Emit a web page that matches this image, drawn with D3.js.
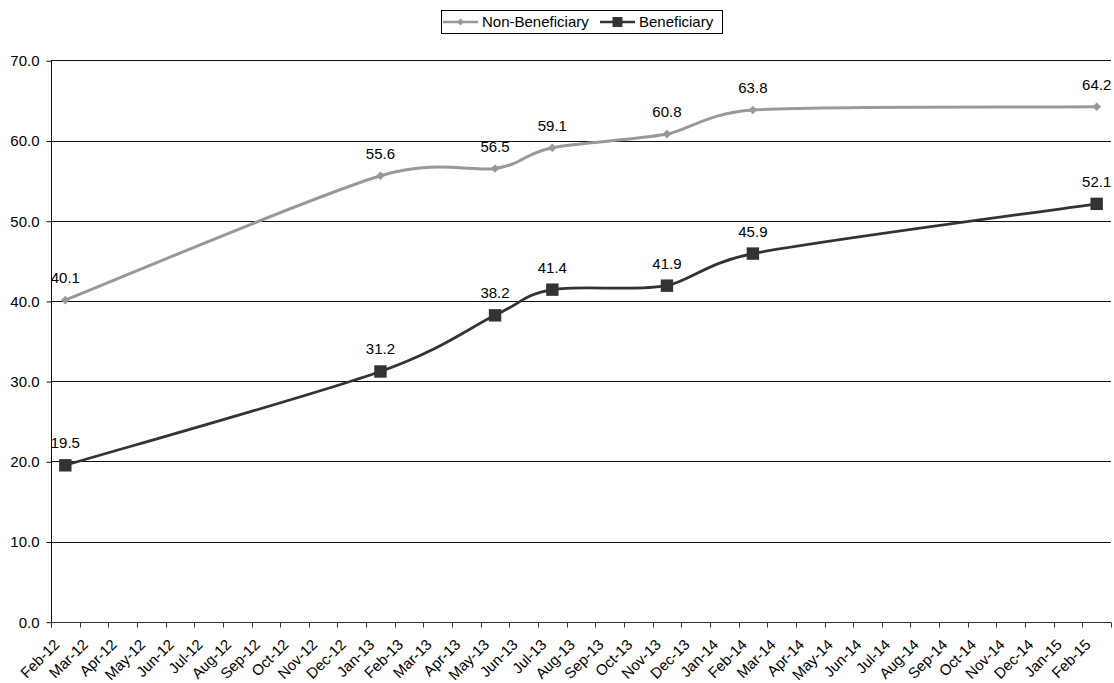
<!DOCTYPE html>
<html>
<head>
<meta charset="utf-8">
<script src="https://cdn.jsdelivr.net/npm/d3@7"></script>
<style>
  body { margin: 0; background: #fff; }
  svg { display: block; font-family: "Liberation Sans", Arial, sans-serif; }
</style>
</head>
<body>
<svg id="chart" width="1114" height="683"></svg>
<script>
// Monthly categories on the x axis
const months = ["Feb-12","Mar-12","Apr-12","May-12","Jun-12","Jul-12","Aug-12","Sep-12","Oct-12","Nov-12","Dec-12","Jan-13",
  "Feb-13","Mar-13","Apr-13","May-13","Jun-13","Jul-13","Aug-13","Sep-13","Oct-13","Nov-13","Dec-13","Jan-14",
  "Feb-14","Mar-14","Apr-14","May-14","Jun-14","Jul-14","Aug-14","Sep-14","Oct-14","Nov-14","Dec-14","Jan-15","Feb-15"];

// Survey rounds (months where values exist)
const surveyMonths = ["Feb-12","Jan-13","May-13","Jul-13","Nov-13","Feb-14","Feb-15"];
const nonBeneficiary = [40.1, 55.6, 56.5, 59.1, 60.8, 63.8, 64.2];
const beneficiary    = [19.5, 31.2, 38.2, 41.4, 41.9, 45.9, 52.1];

const yTicks = [0, 10, 20, 30, 40, 50, 60, 70];

const svg = d3.select("#chart");
const plotLeft = 51, plotRight = 1111, plotTop = 60.3, plotBottom = 621.7;
const FONT = 15;

const x = d3.scaleBand().domain(months).range([plotLeft, plotRight]);
const y = d3.scaleLinear().domain([0, 70]).range([plotBottom, plotTop]);
const cx = m => x(m) + x.bandwidth() / 2;

// Horizontal gridlines
svg.append("g").selectAll("line").data(yTicks.filter(d => d > 0)).join("line")
  .attr("x1", plotLeft).attr("x2", plotRight)
  .attr("y1", d => Math.round(y(d)) + 0.5).attr("y2", d => Math.round(y(d)) + 0.5)
  .attr("stroke", "#111").attr("stroke-width", 1);

// Y axis
const yAxis = svg.append("g").attr("transform", `translate(${plotLeft + 0.5},0.5)`)
  .call(d3.axisLeft(y).tickValues(yTicks).tickFormat(d3.format(".1f")).tickSize(5).tickPadding(7));
yAxis.select(".domain").attr("stroke", "#111").attr("d", `M0,${Math.round(plotTop)}V${Math.round(plotBottom) + 5}`);
yAxis.selectAll(".tick line").attr("stroke", "#111");
yAxis.selectAll("text").attr("font-size", FONT).attr("fill", "#000")
  .attr("font-family", "Liberation Sans, Arial, sans-serif");

// X axis: ticks at category boundaries, labels at category centres
const xg = svg.append("g").attr("transform", `translate(0,${Math.round(plotBottom) + 0.5})`);
xg.append("line").attr("x1", plotLeft).attr("x2", plotRight).attr("stroke", "#333");
const bounds = months.map(m => x(m)).concat([plotRight]);
xg.selectAll("line.tk").data(bounds).join("line").attr("class", "tk")
  .attr("x1", d => Math.round(d) + 0.5).attr("x2", d => Math.round(d) + 0.5)
  .attr("y1", 0).attr("y2", 5).attr("stroke", "#333");
xg.selectAll("text").data(months).join("text")
  .attr("transform", m => `translate(${cx(m) - 5},${23}) rotate(-45)`)
  .attr("text-anchor", "end")
  .attr("font-size", FONT).attr("fill", "#000").text(d => d);

// Smoothed line in the spreadsheet style: cubic Bezier segments whose
// control arms follow the neighbour chord, clamped to half the segment.
function smoothPath(pts) {
  const p = d3.path();
  const dist = (a, b) => Math.hypot(b[0] - a[0], b[1] - a[1]);
  p.moveTo(pts[0][0], pts[0][1]);
  for (let i = 0; i < pts.length - 1; i++) {
    const p0 = pts[Math.max(i - 1, 0)], p1 = pts[i], p2 = pts[i + 1], p3 = pts[Math.min(i + 2, pts.length - 1)];
    const d02 = dist(p0, p2), d12 = dist(p1, p2), d13 = dist(p1, p3);
    const big02 = d02 / 6 >= d12 / 2, big13 = d13 / 6 >= d12 / 2;
    let f1 = 1 / 6, f2 = 1 / 6;
    if (big02 && big13) { f1 = d12 / 2 / d02; f2 = d12 / 2 / d13; }
    else if (big02) { f1 = d12 / 2 / d02; f2 = f1; }
    else if (big13) { f2 = d12 / 2 / d13; f1 = f2; }
    const b1 = [p1[0] + (p2[0] - p0[0]) * f1, p1[1] + (p2[1] - p0[1]) * f1];
    const b2 = [p2[0] - (p3[0] - p1[0]) * f2, p2[1] - (p3[1] - p1[1]) * f2];
    p.bezierCurveTo(b1[0], b1[1], b2[0], b2[1], p2[0], p2[1]);
  }
  return p.toString();
}

// Series
const series = [
  { name: "Non-Beneficiary", values: nonBeneficiary, color: "#999999", marker: "diamond", width: 3 },
  { name: "Beneficiary", values: beneficiary, color: "#333333", marker: "square", width: 2.75 }
];

function drawMarker(g, type, color, scale) {
  if (type === "diamond") {
    const r = 4.3 * scale;
    g.append("path").attr("d", `M0,${-r}L${r},0L0,${r}L${-r},0Z`).attr("fill", color);
  } else {
    const h = 6.2 * scale;
    g.append("rect").attr("x", -h).attr("y", -h).attr("width", 2 * h).attr("height", 2 * h).attr("fill", color);
  }
}

series.forEach(s => {
  const pts = surveyMonths.map((m, i) => ({ m, v: s.values[i] }));
  svg.append("path").attr("d", smoothPath(pts.map(d => [cx(d.m), y(d.v)])))
    .attr("fill", "none").attr("stroke", s.color).attr("stroke-width", s.width);
  pts.forEach(p => {
    const g = svg.append("g").attr("transform", `translate(${cx(p.m)},${y(p.v)})`);
    drawMarker(g, s.marker, s.color, 1);
    svg.append("text").attr("x", cx(p.m)).attr("y", y(p.v) - 17)
      .attr("text-anchor", "middle").attr("font-size", FONT).attr("fill", "#000")
      .text(d3.format(".1f")(p.v));
  });
});

// Legend
const lg = svg.append("g");
lg.append("rect").attr("x", 441.5).attr("y", 10.5).attr("width", 281).attr("height", 23)
  .attr("fill", "#fff").attr("stroke", "#000");
const items = [
  { s: series[0], x0: 443 },
  { s: series[1], x0: 600 }
];
items.forEach(it => {
  lg.append("line").attr("x1", it.x0).attr("x2", it.x0 + 35).attr("y1", 22).attr("y2", 22)
    .attr("stroke", it.s.color).attr("stroke-width", 2.5);
  const g = lg.append("g").attr("transform", `translate(${it.x0 + 17.5},22)`);
  drawMarker(g, it.s.marker, it.s.color, 0.8);
  lg.append("text").attr("x", it.x0 + 39).attr("y", 22).attr("dy", "0.35em")
    .attr("font-size", FONT).attr("fill", "#000").text(it.s.name);
});
</script>
</body>
</html>
